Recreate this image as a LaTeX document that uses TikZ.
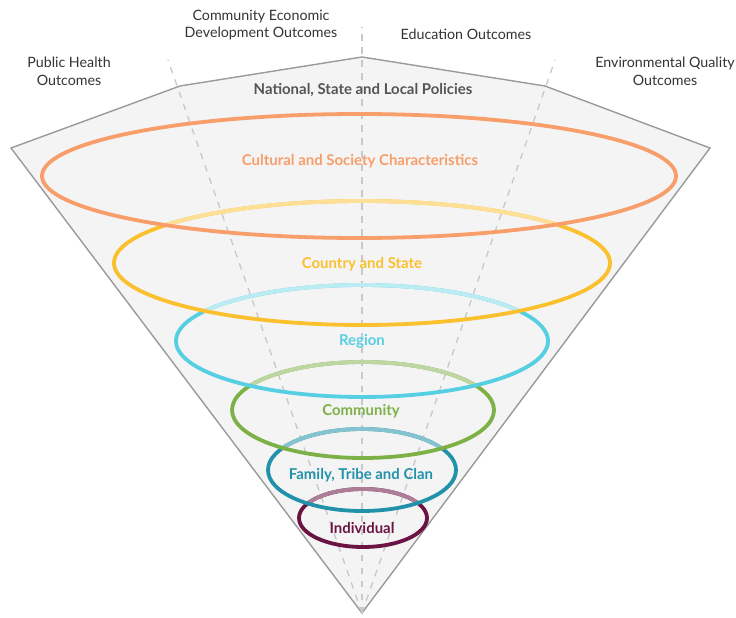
\documentclass[tikz,border=0pt]{standalone}
\usepackage{fontspec}
\setmainfont{Lato}
\definecolor{cOrange}{HTML}{F79E6B}
\definecolor{cYellow}{HTML}{FBC02D}
\definecolor{cCyan}{HTML}{56CFE3}
\definecolor{cGreen}{HTML}{7DB046}
\definecolor{cTeal}{HTML}{2291AA}
\definecolor{cMaroon}{HTML}{6B1444}
\definecolor{cFunnel}{HTML}{F4F4F4}
\definecolor{cEdge}{HTML}{9A9A9A}
\definecolor{cDash}{HTML}{C8C8C8}
\definecolor{cText}{HTML}{333333}
\definecolor{cPolicy}{HTML}{555555}
\tikzset{
  ring/.style={line width=3.8bp},
  guide/.style={draw=cDash, line width=1.3bp, dash pattern=on 6.5bp off 6.5bp},
  outlabel/.style={font=\fontsize{14.3}{18}\selectfont, text=cText, align=center, inner sep=0pt},
  ringlabel/.style={font=\fontsize{15}{18}\selectfont\bfseries, inner sep=0pt},
}
\begin{document}
\begin{tikzpicture}[x=1bp,y=-1bp]
\useasboundingbox (0,0) rectangle (736,618);
% funnel
\coordinate (p1) at (11,148);
\coordinate (p2) at (180,86);
\coordinate (p3) at (362,57);
\coordinate (p4) at (545,86);
\coordinate (p5) at (710,148);
\coordinate (apex) at (362,613);
\draw[fill=cFunnel, draw=cEdge, line width=1.4bp, line join=miter]
  (p1) -- (p2) -- (p3) -- (p4) -- (p5) -- (apex) -- cycle;
% guides
\coordinate (gL) at (168,60);
\coordinate (gC) at (362,27);
\coordinate (gR) at (555,60);
\draw[guide] (apex) -- (gL);
\draw[guide] (apex) -- (gC);
\draw[guide] (apex) -- (gR);
% rings, smallest first; the part of each ring inside the next larger ring is lighter
% Individual
\draw[ring, cMaroon] (363,518) ellipse [x radius=64, y radius=29];
\begin{scope}
  \clip (362,470) ellipse [x radius=94, y radius=41];
  \draw[ring, cMaroon!55!white] (363,518) ellipse [x radius=64, y radius=29];
\end{scope}
% Family
\draw[ring, cTeal] (362,470) ellipse [x radius=94, y radius=41];
\begin{scope}
  \clip (363,410) ellipse [x radius=131, y radius=48];
  \draw[ring, cTeal!55!white] (362,470) ellipse [x radius=94, y radius=41];
\end{scope}
% Community
\draw[ring, cGreen] (363,410) ellipse [x radius=131, y radius=48];
\begin{scope}
  \clip (362,341) ellipse [x radius=186, y radius=56];
  \draw[ring, cGreen!50!white] (363,410) ellipse [x radius=131, y radius=48];
\end{scope}
% Region
\draw[ring, cCyan] (362,341) ellipse [x radius=186, y radius=56];
\begin{scope}
  \clip (362,263) ellipse [x radius=248, y radius=62];
  \draw[ring, cCyan!40!white] (362,341) ellipse [x radius=186, y radius=56];
\end{scope}
% Country and State
\draw[ring, cYellow] (362,263) ellipse [x radius=248, y radius=62];
\begin{scope}
  \clip (359,176) ellipse [x radius=317, y radius=62];
  \draw[ring, cYellow!50!white] (362,263) ellipse [x radius=248, y radius=62];
\end{scope}
% Cultural
\draw[ring, cOrange] (359,176) ellipse [x radius=317, y radius=62];
% ring labels
\node[ringlabel, text=cPolicy] (policy) at (363,90) {National, State and Local Policies};
\node[ringlabel, text=cOrange] (cult) at (360,161) {Cultural and Society Characteristics};
\node[ringlabel, text=cYellow] (country) at (362,264) {Country and State};
\node[ringlabel, text=cCyan] (region) at (362,341) {Region};
\node[ringlabel, text=cGreen] (comm) at (361,411) {Community};
\node[ringlabel, text=cTeal] (family) at (361,475) {Family, Tribe and Clan};
\node[ringlabel, text=cMaroon] (indiv) at (362,528) {Individual};
% outcome labels
\node[outlabel] (ph) at (69,71) {Public Health\\Outcomes};
\node[outlabel] (ced) at (261,25) {Community Economic\\Development Outcomes};
\node[outlabel] (edu) at (466,34) {Education Outcomes};
\node[outlabel] (env) at (665,71) {Environmental Quality\\Outcomes};
\end{tikzpicture}
\end{document}
